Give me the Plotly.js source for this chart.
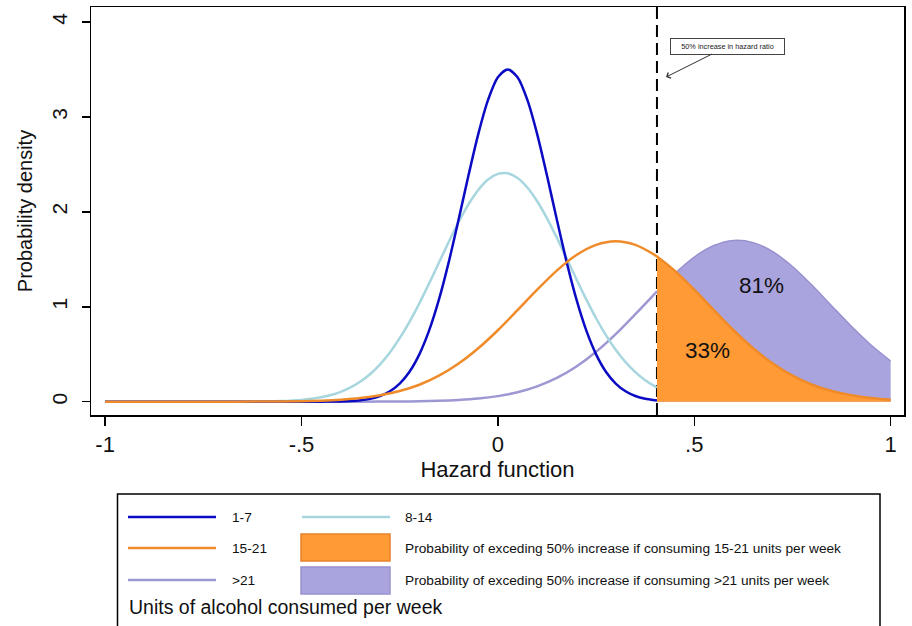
<!DOCTYPE html>
<html>
<head>
<meta charset="utf-8">
<script src="https://cdn.plot.ly/plotly-3.0.1.min.js"></script>
<style>html,body{margin:0;padding:0;background:#fff;}#chart{width:912px;height:626px;}</style>
</head>
<body>
<div id="chart"></div>
<script>
// ---- data ----
const cutoff = 0.405; // log(1.5): 50% increase in hazard ratio

const blueX = [-1, -0.5, -0.475, -0.45, -0.425, -0.4, -0.375, -0.35, -0.325, -0.3, -0.275, -0.25, -0.225, -0.2, -0.175, -0.15, -0.125, -0.1, -0.075, -0.05, -0.025, 0, 0.025, 0.05, 0.075, 0.1, 0.125, 0.15, 0.175, 0.2, 0.225, 0.25, 0.275, 0.3, 0.325, 0.35, 0.375, 0.4, 0.405];
const blueY = [0, 0, 0.0002, 0.0006, 0.0014, 0.0034, 0.0074, 0.016, 0.031, 0.060, 0.110, 0.191, 0.316, 0.499, 0.751, 1.077, 1.473, 1.919, 2.382, 2.819, 3.179, 3.417, 3.5, 3.417, 3.179, 2.819, 2.382, 1.919, 1.473, 1.077, 0.751, 0.499, 0.316, 0.191, 0.110, 0.060, 0.031, 0.016, 0.014];

const lightX = [-1, -0.8, -0.7, -0.65, -0.6, -0.55, -0.5, -0.475, -0.45, -0.425, -0.4, -0.375, -0.35, -0.325, -0.3, -0.275, -0.25, -0.225, -0.2, -0.175, -0.15, -0.125, -0.1, -0.075, -0.05, -0.025, 0, 0.025, 0.05, 0.075, 0.1, 0.125, 0.15, 0.175, 0.2, 0.225, 0.25, 0.275, 0.3, 0.325, 0.35, 0.375, 0.4, 0.405];
const lightY = [0, 0, 0.0002, 0.0008, 0.0024, 0.0071, 0.019, 0.030, 0.047, 0.070, 0.104, 0.150, 0.212, 0.292, 0.394, 0.519, 0.669, 0.842, 1.036, 1.247, 1.466, 1.685, 1.893, 2.079, 2.231, 2.341, 2.400, 2.406, 2.357, 2.257, 2.112, 1.932, 1.728, 1.510, 1.290, 1.078, 0.879, 0.702, 0.547, 0.417, 0.311, 0.226, 0.161, 0.150];

const orangeX = [-1, -0.7, -0.6, -0.5, -0.45, -0.4, -0.35, -0.3, -0.25, -0.2, -0.15, -0.1, -0.05, 0, 0.05, 0.1, 0.15, 0.2, 0.25, 0.3, 0.35, 0.4, 0.405, 0.45, 0.5, 0.55, 0.6, 0.65, 0.7, 0.75, 0.8, 0.85, 0.9, 0.95, 1.0];
const orangeY = [0, 0.0002, 0.0012, 0.0054, 0.011, 0.021, 0.038, 0.067, 0.112, 0.179, 0.274, 0.402, 0.563, 0.753, 0.964, 1.180, 1.381, 1.545, 1.652, 1.690, 1.652, 1.545, 1.531, 1.381, 1.180, 0.964, 0.753, 0.563, 0.402, 0.274, 0.179, 0.112, 0.067, 0.038, 0.021];

const purpleX = [-1, -0.5, -0.4, -0.3, -0.25, -0.2, -0.15, -0.1, -0.05, 0, 0.05, 0.1, 0.15, 0.2, 0.25, 0.3, 0.35, 0.4, 0.405, 0.45, 0.5, 0.55, 0.6, 0.65, 0.7, 0.75, 0.8, 0.85, 0.9, 0.95, 1.0];
const purpleY = [0, 0, 0.0002, 0.0009, 0.0021, 0.0045, 0.0091, 0.018, 0.033, 0.059, 0.099, 0.161, 0.250, 0.371, 0.526, 0.712, 0.922, 1.140, 1.162, 1.348, 1.524, 1.645, 1.699, 1.676, 1.580, 1.424, 1.226, 1.009, 0.794, 0.597, 0.429];

const seriesNames = ['1-7', '8-14', '15-21', '>21'];
const areaNames = ['Probability of exceding 50% increase if consuming 15-21 units per week',
                   'Probability of exceding 50% increase if consuming >21 units per week'];
const areaLabels = ['33%', '81%'];
const xTickVals = [-1, -0.5, 0, 0.5, 1];
const xTickText = ['-1', '-.5', '0', '.5', '1'];
const yTickVals = [0, 1, 2, 3, 4];
const yTickText = ['0', '1', '2', '3', '4'];

// ---- styles ----
const C = {blue:'#0b0bc4', light:'#a7d6df', orange:'#f08b2a', orangeFill:'#ff9a35', orangeEdge:'#e9822a',
           purple:'#9d97d3', purpleFill:'#a9a4dd', purpleEdge:'#9891cf'};
const FONT = 'Arial, "Liberation Sans", sans-serif';

function part(xs, ys, keep){ const ox=[], oy=[]; xs.forEach((x,i)=>{ if(keep(x)){ox.push(x);oy.push(ys[i]);} }); return [ox, oy]; }
const [purpleLX, purpleLY] = part(purpleX, purpleY, x => x <= cutoff);
const [purpleTX, purpleTY] = part(purpleX, purpleY, x => x >= cutoff);
const [orangeTX, orangeTY] = part(orangeX, orangeY, x => x >= cutoff);

const sp = {shape:'spline', smoothing:0.8};
const traces = [
  {x:purpleTX, y:purpleTY, type:'scatter', mode:'lines', fill:'tozeroy', fillcolor:C.purpleFill,
   line:Object.assign({color:C.purpleEdge, width:1.5}, sp), name:areaNames[1], showlegend:false, hoverinfo:'skip'},
  {x:orangeTX, y:orangeTY, type:'scatter', mode:'lines', fill:'tozeroy', fillcolor:C.orangeFill,
   line:Object.assign({color:C.orange, width:1}, sp), name:areaNames[0], showlegend:false, hoverinfo:'skip'},
  {x:purpleLX, y:purpleLY, type:'scatter', mode:'lines', line:Object.assign({color:C.purple, width:2.5}, sp), name:seriesNames[3], showlegend:false},
  {x:lightX, y:lightY, type:'scatter', mode:'lines', line:Object.assign({color:C.light, width:2.5}, sp), name:seriesNames[1], showlegend:false},
  {x:blueX, y:blueY, type:'scatter', mode:'lines', line:Object.assign({color:C.blue, width:2.5}, sp), name:seriesNames[0], showlegend:false},
  {x:orangeX, y:orangeY, type:'scatter', mode:'lines', line:Object.assign({color:C.orange, width:2.5}, sp), name:seriesNames[2], showlegend:false}
];

// ---- layout helpers (pixel -> paper) ----
const W = 912, H = 626, M = {l:91, r:8, t:7, b:211};
const PX = p => (p - M.l) / (W - M.l - M.r);
const PY = p => (H - M.b - p) / (H - M.t - M.b);

const shapes = [
  {type:'line', xref:'x', yref:'paper', x0:cutoff, x1:cutoff, y0:0, y1:1, layer:'below',
   line:{color:'#000', width:2, dash:'12px,6px'}},
  // legend box
  {type:'rect', xref:'paper', yref:'paper', x0:PX(117.5), x1:PX(880), y0:PY(494), y1:PY(645), line:{color:'#000', width:1.5}},
  {type:'line', xref:'paper', yref:'paper', x0:PX(128), x1:PX(216), y0:PY(517), y1:PY(517), line:{color:C.blue, width:2.5}},
  {type:'line', xref:'paper', yref:'paper', x0:PX(302), x1:PX(390), y0:PY(517), y1:PY(517), line:{color:C.light, width:2.5}},
  {type:'line', xref:'paper', yref:'paper', x0:PX(128), x1:PX(216), y0:PY(548), y1:PY(548), line:{color:C.orange, width:2.5}},
  {type:'line', xref:'paper', yref:'paper', x0:PX(128), x1:PX(216), y0:PY(580), y1:PY(580), line:{color:C.purple, width:2.5}},
  {type:'rect', xref:'paper', yref:'paper', x0:PX(301), x1:PX(390), y0:PY(534), y1:PY(561), fillcolor:C.orangeFill, line:{color:C.orangeEdge, width:1.5}},
  {type:'rect', xref:'paper', yref:'paper', x0:PX(301), x1:PX(390), y0:PY(567), y1:PY(594), fillcolor:C.purpleFill, line:{color:C.purpleEdge, width:1.5}}
];

function legText(text, px, py, size){
  return {xref:'paper', yref:'paper', x:PX(px), y:PY(py), xanchor:'left', yanchor:'middle', showarrow:false,
          text:text, font:{family:FONT, size:size||13.7, color:'#111'}};
}
const annotations = [
  {xref:'x', yref:'y', x:0.428, y:3.42, ax:62, ay:-31, text:'50% increase in hazard ratio', showarrow:true,
   arrowhead:4, arrowsize:1.2, arrowwidth:1, arrowcolor:'#333', font:{family:FONT, size:7.3, color:'#222'},
   bordercolor:'#444', borderwidth:1, borderpad:1, bgcolor:'#fff', width:111, height:13},
  {xref:'x', yref:'y', x:0.534, y:0.54, text:areaLabels[0], showarrow:false, font:{family:FONT, size:22.5, color:'#111'}},
  {xref:'x', yref:'y', x:0.671, y:1.22, text:areaLabels[1], showarrow:false, font:{family:FONT, size:22.5, color:'#111'}},
  legText(seriesNames[0], 230, 517), legText(seriesNames[1], 403, 517),
  legText(seriesNames[2], 230, 548), legText(areaNames[0], 403, 548),
  legText(seriesNames[3], 230, 580), legText(areaNames[1], 403, 580),
  legText('Units of alcohol consumed per week', 127, 607, 19.5)
];

const layout = {
  width:W, height:H, margin:M, paper_bgcolor:'#fff', plot_bgcolor:'#fff', showlegend:false,
  font:{family:FONT, color:'#111'},
  xaxis:{range:[-1.036, 1.034], tickvals:xTickVals, ticktext:xTickText, ticks:'outside', ticklen:9, tickwidth:1.5,
         tickcolor:'#000', showline:true, linecolor:'#000', linewidth:1.5, mirror:true, showgrid:false, zeroline:false,
         tickfont:{family:FONT, size:22, color:'#111'}, ticklabelstandoff:0,
         title:{text:'Hazard function', font:{family:FONT, size:22, color:'#111'}, standoff:0}},
  yaxis:{range:[-0.14, 4.158], tickvals:yTickVals, ticktext:yTickText, tickangle:-90, ticks:'outside', ticklen:8, tickwidth:1.5,
         tickcolor:'#000', showline:true, linecolor:'#000', linewidth:1.5, mirror:true, showgrid:false, zeroline:false,
         tickfont:{family:FONT, size:21, color:'#111'}, ticklabelstandoff:6,
         title:{text:'Probability density', font:{family:FONT, size:20, color:'#111'}, standoff:10}},
  shapes:shapes, annotations:annotations
};

Plotly.newPlot('chart', traces, layout, {displayModeBar:false, staticPlot:true});
</script>
</body>
</html>
